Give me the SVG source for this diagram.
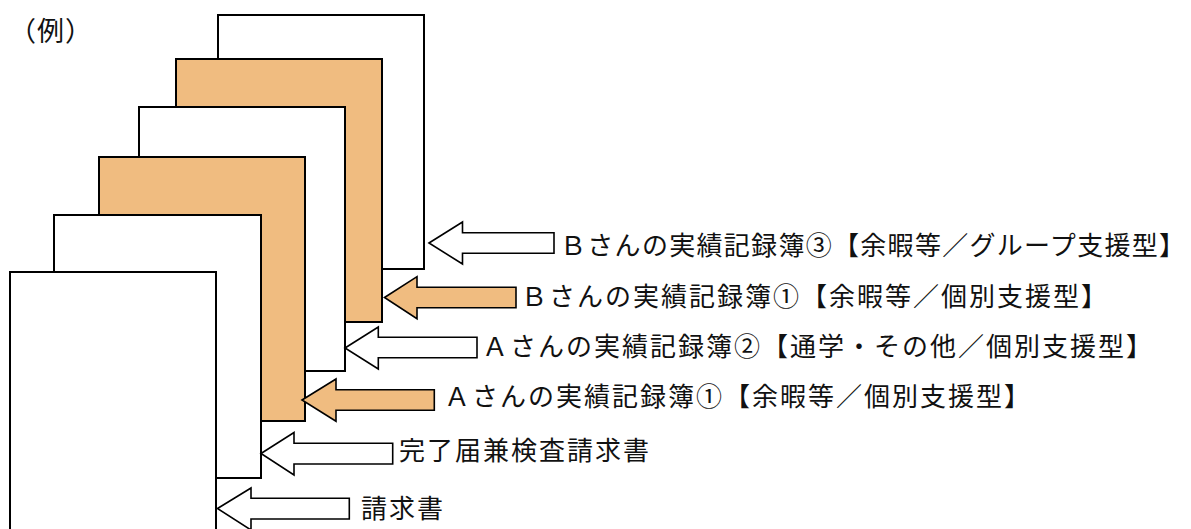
<svg xmlns="http://www.w3.org/2000/svg" width="1191" height="529" viewBox="0 0 1191 529">
<style>
.page{stroke:#000;stroke-width:2}
.w{fill:#fff}
.o{fill:#F0BC80}
.arr{stroke:#000;stroke-width:1.6;stroke-linejoin:miter}
.t{font-family:"Noto Sans CJK JP","Noto Sans CJK SC",sans-serif;font-size:26px;letter-spacing:2px;fill:#111}
</style>
<rect width="1191" height="529" fill="#fff"/>
<text class="t" x="9" y="41" style="font-size:27px;letter-spacing:1px">（例）</text>
<g id="page-b3"><rect class="page w" x="218" y="15" width="206" height="254"/></g>
<g id="page-b1"><rect class="page o" x="176" y="59" width="206" height="263"/></g>
<g id="page-a2"><rect class="page w" x="139" y="107" width="206" height="264"/></g>
<g id="page-a1"><rect class="page o" x="99" y="157" width="206" height="264"/></g>
<g id="page-kanryo"><rect class="page w" x="54" y="215" width="207" height="263"/></g>
<g id="page-seikyu"><rect class="page w" x="10" y="272" width="206" height="300"/></g>
<g id="connectors">
<path class="arr w" d="M429,243 L462.5,222 L462.5,232.7 L554,232.7 L554,253.3 L462.5,253.3 L462.5,264 Z"/>
<path class="arr o" d="M384.5,297.5 L417,276.7 L417,287.3 L516,287.3 L516,307.7 L417,307.7 L417,318.7 Z"/>
<path class="arr w" d="M345,348 L378.3,327 L378.3,337.3 L477,337.3 L477,357.7 L378.3,357.7 L378.3,369 Z"/>
<path class="arr o" d="M302,400 L336,379 L336,389.7 L434.3,389.7 L434.3,410.3 L336,410.3 L336,421.3 Z"/>
<path class="arr w" d="M261,453.5 L294,432.5 L294,443.3 L392.7,443.3 L392.7,464 L294,464 L294,475 Z"/>
<path class="arr w" d="M217.5,508.5 L251,488 L251,498.3 L349.3,498.3 L349.3,519 L251,519 L251,530 Z"/>
</g>
<g id="label-b3"><text class="t" x="560" y="255" style="letter-spacing:1.3px">Ｂさんの実績記録簿③【余暇等／グループ支援型】</text></g>
<g id="label-b1"><text class="t" x="521" y="306">Ｂさんの実績記録簿①【余暇等／個別支援型】</text></g>
<g id="label-a2"><text class="t" x="482" y="356">Ａさんの実績記録簿②【通学・その他／個別支援型】</text></g>
<g id="label-a1"><text class="t" x="444" y="406">Ａさんの実績記録簿①【余暇等／個別支援型】</text></g>
<g id="label-kanryo"><text class="t" x="399" y="460">完了届兼検査請求書</text></g>
<g id="label-seikyu"><text class="t" x="361" y="518">請求書</text></g>
</svg>
